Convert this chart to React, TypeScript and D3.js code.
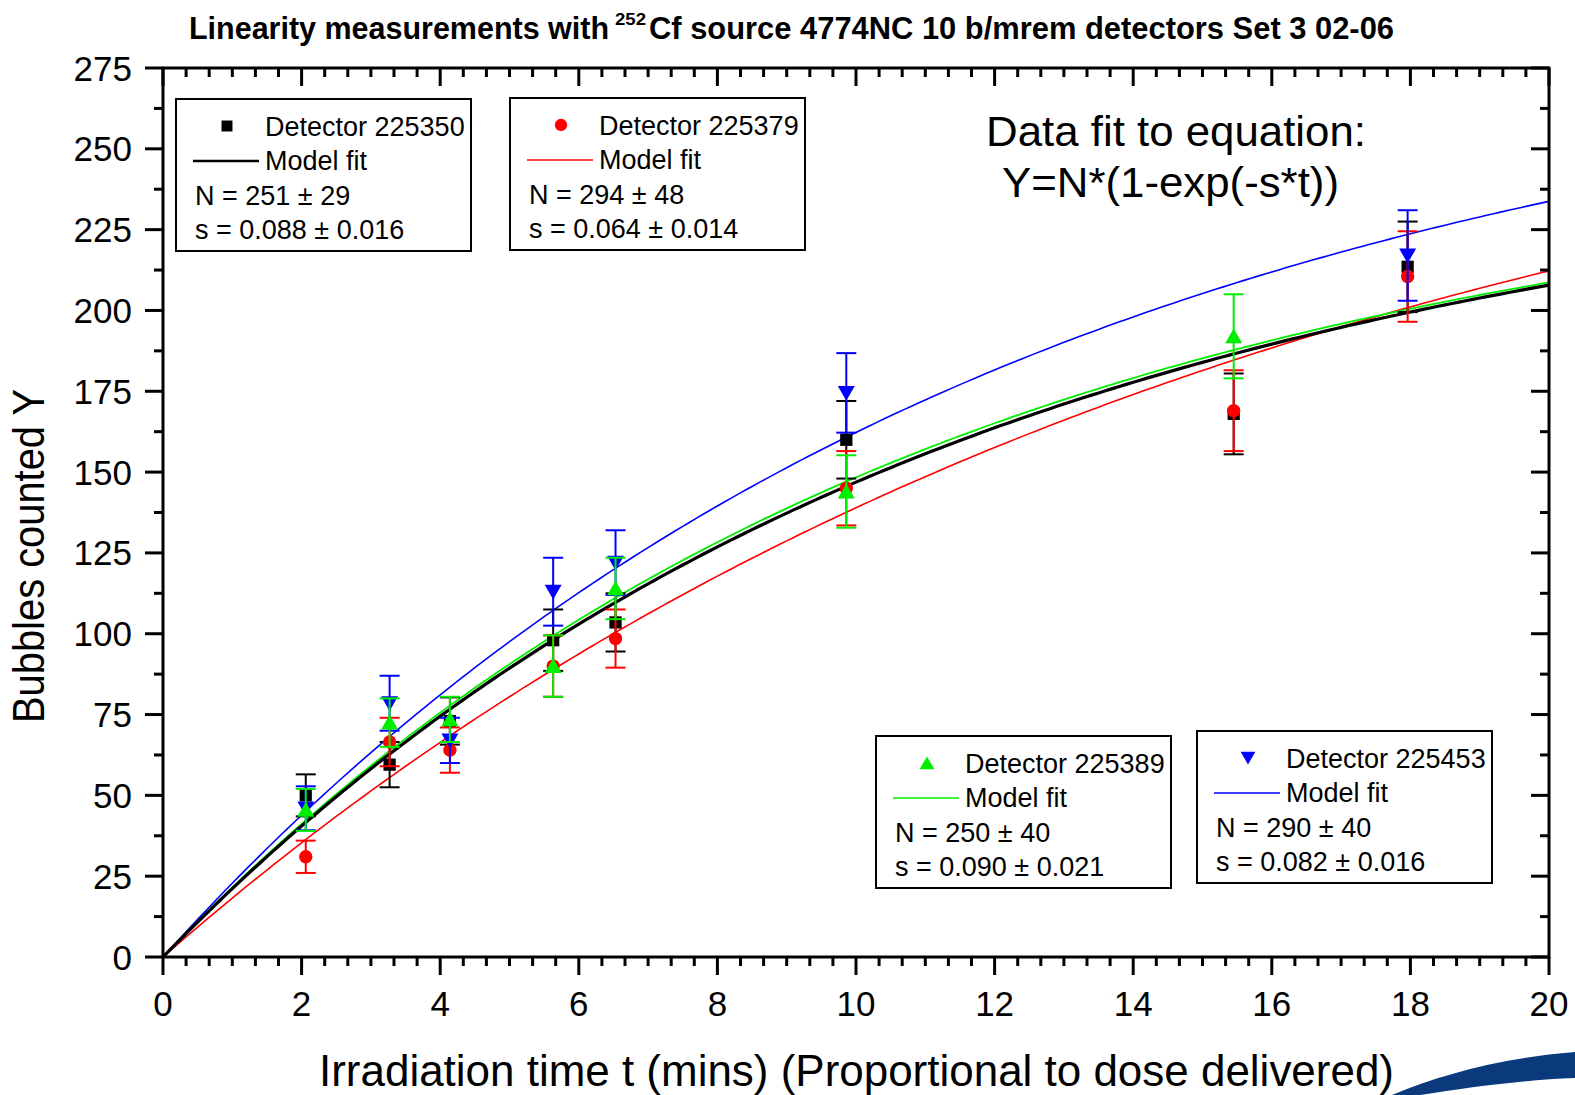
import * as d3 from "d3";

const timesAll = [2.06, 3.27, 4.14, 5.63, 6.53, 9.86, 15.45, 17.96];
const timesGreen = [2.06, 3.27, 4.14, 5.63, 6.53, 9.86, 15.45];
const timesBlue = [2.06, 3.27, 4.14, 5.63, 6.53, 9.86, 17.96];

const blackVals = [50, 59.5, 73, 98, 103.5, 160, 168, 213.5];
const blackErr = [6.5, 7, 7.3, 9.5, 9, 12, 12.5, 14];
const redVals = [31, 66.5, 64, 90, 98.5, 145, 169, 210.5];
const redErr = [5, 7.5, 7, 9.5, 9, 11.5, 12.5, 14];
const greenVals = [45.5, 72.5, 73.5, 90, 114, 144, 192];
const greenErr = [6.5, 7.5, 7, 9.5, 9.5, 11.2, 13];
const blueVals = [46, 78.5, 67, 113, 122, 174.5, 217];
const blueErr = [6.8, 8.5, 7, 10.5, 10, 12.3, 14];

// fit parameters shown in the legends: Y = N*(1-exp(-s*t))
const fitN = [251, 294, 250, 290];
const fitS = [0.088, 0.064, 0.09, 0.082];
const detectorIds = ["225350", "225379", "225389", "225453"];
const paramN = ["251 ± 29", "294 ± 48", "250 ± 40", "290 ± 40"];
const paramS = ["0.088 ± 0.016", "0.064 ± 0.014", "0.090 ± 0.021", "0.082 ± 0.016"];

const xTicks = [0, 2, 4, 6, 8, 10, 12, 14, 16, 18, 20];
const yTicks = [0, 25, 50, 75, 100, 125, 150, 175, 200, 225, 250, 275];

const W = 1575;
const H = 1095;
const L = 163, R = 1549, T = 68, B = 957;
const FONT = "'Liberation Sans', Arial, sans-serif";

const x = d3.scaleLinear().domain([0, 20]).range([L, R]);
const y = d3.scaleLinear().domain([0, 275]).range([B, T]);

const series = [
  { color: "#000000", times: timesAll, vals: blackVals, err: blackErr, sym: "square" },
  { color: "#ff0000", times: timesAll, vals: redVals, err: redErr, sym: "circle" },
  { color: "#0000ff", times: timesBlue, vals: blueVals, err: blueErr, sym: "down" },
  { color: "#00ee00", times: timesGreen, vals: greenVals, err: greenErr, sym: "up" },
];

// legend boxes: top-left corners (one per detector, same order as fitN)
const legendPos = [
  [176, 99],
  [510, 98],
  [876, 736],
  [1197, 731],
];
const legendColor = ["#000000", "#ff0000", "#00ee00", "#0000ff"];
const legendSym = ["square", "circle", "up", "down"];

function symbolPath(kind: string, size: number) {
  const t =
    kind === "square" ? d3.symbolSquare :
    kind === "circle" ? d3.symbolCircle : d3.symbolTriangle;
  return d3.symbol().type(t).size(size)() as string;
}

function Marker({ kind, cx, cy, color, size }: any) {
  const rot = kind === "down" ? 180 : 0;
  const dy = kind === "up" ? 2 : kind === "down" ? -2 : 0;
  return (
    <path
      d={symbolPath(kind, size)}
      fill={color}
      transform={`translate(${cx},${cy + dy}) rotate(${rot})`}
    />
  );
}

function minorTicks(step: number, sub: number, max: number) {
  const out: number[] = [];
  for (let v = 0; v <= max + 1e-9; v += step / sub) {
    const r = Math.round((v / step) * 1000) / 1000;
    if (Math.abs(r - Math.round(r)) > 1e-6) out.push(v);
  }
  return out;
}

export default function App() {
  const ts = d3.range(0, 20.001, 0.1);
  const fitLine = (i: number) =>
    d3
      .line<number>()
      .x((t) => x(t))
      .y((t) => y(fitN[i] * (1 - Math.exp(-fitS[i] * t))))(ts) as string;
  const fitOrder = [1, 3, 2, 0]; // red, blue drawn under green and black
  const fitColor = ["#000000", "#ff0000", "#00ee00", "#0000ff"];
  const fitWidth = [3.2, 1.6, 1.8, 1.6];

  const xMinor = minorTicks(2, 6, 20);
  const yMinor = minorTicks(25, 2, 275);

  return (
    <svg
      width={W}
      height={H}
      style={{ position: "absolute", left: 0, top: 0, background: "#fff" }}
      fontFamily={FONT}
    >
      <rect width={W} height={H} fill="#fff" />

      {/* title */}
      <text x={189} y={39} fontSize={31} fontWeight="bold" textLength={420} lengthAdjust="spacingAndGlyphs">
        Linearity measurements with
      </text>
      <text x={615} y={25} fontSize={17} fontWeight="bold" textLength={31} lengthAdjust="spacingAndGlyphs">
        252
      </text>
      <text x={649} y={39} fontSize={31} fontWeight="bold" textLength={745} lengthAdjust="spacingAndGlyphs">
        Cf source 4774NC 10 b/mrem detectors Set 3 02-06
      </text>

      {/* fit curves */}
      <defs>
        <clipPath id="plot">
          <rect x={L} y={T} width={R - L} height={B - T} />
        </clipPath>
      </defs>
      <g clipPath="url(#plot)">
        {fitOrder.map((i) => (
          <path key={i} d={fitLine(i)} fill="none" stroke={fitColor[i]} strokeWidth={fitWidth[i]} />
        ))}
      </g>

      {/* data with error bars */}
      {series.map((s, si) => (
        <g key={si}>
          {s.times.map((t, j) => {
            const cx = x(t);
            const hi = y(s.vals[j] + s.err[j]);
            const lo = y(s.vals[j] - s.err[j]);
            return (
              <g key={j} stroke={s.color} strokeWidth={2}>
                <line x1={cx} x2={cx} y1={hi} y2={lo} />
                <line x1={cx - 10} x2={cx + 10} y1={hi} y2={hi} />
                <line x1={cx - 10} x2={cx + 10} y1={lo} y2={lo} />
              </g>
            );
          })}
          {s.times.map((t, j) => (
            <Marker
              key={"m" + j}
              kind={s.sym}
              cx={x(t)}
              cy={y(s.vals[j])}
              color={s.color}
              size={s.sym === "square" ? 150 : s.sym === "circle" ? 140 : 125}
            />
          ))}
        </g>
      ))}

      {/* axes frame */}
      <rect x={L} y={T} width={R - L} height={B - T} fill="none" stroke="#000" strokeWidth={3} />

      {/* x ticks: bottom outward, top inward; y ticks: left outward, right inward */}
      <g stroke="#000" strokeWidth={3}>
        {xTicks.map((v) => (
          <g key={v}>
            <line x1={x(v)} x2={x(v)} y1={B} y2={B + 18} />
            <line x1={x(v)} x2={x(v)} y1={T} y2={T + 18} />
          </g>
        ))}
        {xMinor.map((v, i) => (
          <g key={i}>
            <line x1={x(v)} x2={x(v)} y1={B} y2={B + 9} />
            <line x1={x(v)} x2={x(v)} y1={T} y2={T + 9} />
          </g>
        ))}
        {yTicks.map((v) => (
          <g key={v}>
            <line x1={L - 18} x2={L} y1={y(v)} y2={y(v)} />
            <line x1={R - 18} x2={R} y1={y(v)} y2={y(v)} />
          </g>
        ))}
        {yMinor.map((v, i) => (
          <g key={i}>
            <line x1={L - 9} x2={L} y1={y(v)} y2={y(v)} />
            <line x1={R - 9} x2={R} y1={y(v)} y2={y(v)} />
          </g>
        ))}
      </g>

      {/* tick labels */}
      {xTicks.map((v) => (
        <text key={v} x={x(v)} y={1016} fontSize={35} textAnchor="middle">
          {v}
        </text>
      ))}
      {yTicks.map((v) => (
        <text key={v} x={132} y={y(v) + 12.5} fontSize={35} textAnchor="end">
          {v}
        </text>
      ))}

      {/* axis titles */}
      <text x={319} y={1086} fontSize={45} textLength={1075} lengthAdjust="spacingAndGlyphs">
        Irradiation time t (mins) (Proportional to dose delivered)
      </text>
      <text
        transform="translate(44,723) rotate(-90)"
        x={0}
        y={0}
        fontSize={45}
        textLength={334}
        lengthAdjust="spacingAndGlyphs"
      >
        Bubbles counted Y
      </text>

      {/* equation */}
      <text x={986} y={146} fontSize={42} textLength={380} lengthAdjust="spacingAndGlyphs">
        Data fit to equation:
      </text>
      <text x={1002} y={197} fontSize={42} textLength={337} lengthAdjust="spacingAndGlyphs">
        Y=N*(1-exp(-s*t))
      </text>

      {/* legend boxes */}
      {legendPos.map(([lx, ly], i) => (
        <g key={i} transform={`translate(${lx},${ly})`}>
          <rect width={295} height={152} fill="#fff" stroke="#000" strokeWidth={2} />
          <Marker
            kind={legendSym[i]}
            cx={51}
            cy={27}
            color={legendColor[i]}
            size={legendSym[i] === "square" ? 120 : legendSym[i] === "circle" ? 120 : 95}
          />
          <text x={89} y={37} fontSize={27}>
            Detector {detectorIds[i]}
          </text>
          <line x1={17} x2={83} y1={62} y2={62} stroke={legendColor[i]} strokeWidth={i === 0 ? 2.5 : 1.6} />
          <text x={89} y={71} fontSize={27}>
            Model fit
          </text>
          <text x={19} y={106} fontSize={27}>
            N = {paramN[i]}
          </text>
          <text x={19} y={140} fontSize={27}>
            s = {paramS[i]}
          </text>
        </g>
      ))}

      {/* decorative swoosh, bottom right */}
      <path
        d="M1392,1095 C1440,1075 1500,1058 1575,1052 L1575,1078 C1520,1080 1465,1088 1420,1095 Z"
        fill="#0b3a7c"
      />
    </svg>
  );
}
